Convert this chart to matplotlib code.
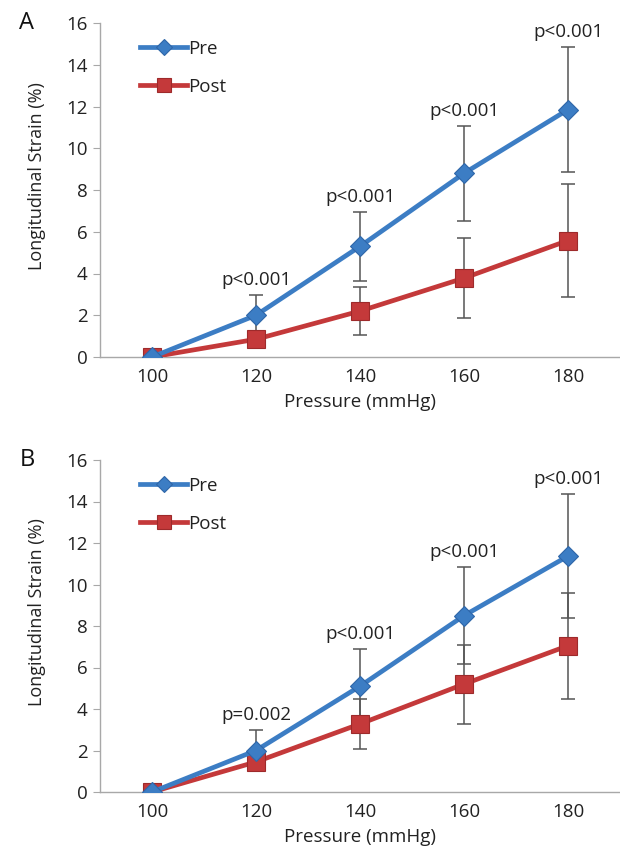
import matplotlib
matplotlib.use("Agg")
import matplotlib.pyplot as plt
import numpy as np

plt.rcParams['font.family'] = ['Open Sans', 'DejaVu Sans']

pressures = ["100", "120", "140", "160", "180"]

# Panel A
a_pre = [0.0, 2.0, 5.3, 8.8, 11.85]
a_pre_err = [0.0, 0.97, 1.65, 2.27, 3.0]
a_post = [0.0, 0.85, 2.2, 3.78, 5.58]
a_post_err = [0.0, 0.3, 1.15, 1.9, 2.72]
a_pvals = ["", "p<0.001", "p<0.001", "p<0.001", "p<0.001"]

# Panel B
b_pre = [0.0, 2.0, 5.1, 8.5, 11.37]
b_pre_err = [0.0, 1.0, 1.8, 2.35, 3.0]
b_post = [0.0, 1.45, 3.28, 5.2, 7.05]
b_post_err = [0.0, 0.3, 1.22, 1.9, 2.55]
b_pvals = ["", "p=0.002", "p<0.001", "p<0.001", "p<0.001"]

yticks = [0, 2, 4, 6, 8, 10, 12, 14, 16]

BLUE = "#3C7DC4"
RED = "#C4393A"
GRAY = "#A8A8A8"
TXT = "#222222"
FS = 13.5

fig = plt.figure(figsize=(6.2, 8.66), dpi=100)
axA = fig.add_axes([100/620, 1-357/866, 520/620, 334/866])
axB = fig.add_axes([100/620, 1-792/866, 520/620, 332/866])


def draw(ax, pre, pre_err, post, post_err, pvals, letter):
    x = np.arange(len(pressures))
    ax.errorbar(x, pre, yerr=pre_err, fmt='none', ecolor='#555555',
                elinewidth=1.1, capsize=5, capthick=1.1, zorder=2)
    ax.errorbar(x, post, yerr=post_err, fmt='none', ecolor='#555555',
                elinewidth=1.1, capsize=5, capthick=1.1, zorder=2)
    ax.plot(x, pre, color=BLUE, lw=3.4, marker='D', ms=10.5,
            mfc=BLUE, mec='#2F66A8', mew=0.8, label='Pre', zorder=4)
    ax.plot(x, post, color=RED, lw=3.4, marker='s', ms=12.5,
            mfc=RED, mec='#9E2A2B', mew=0.8, label='Post', zorder=3)
    for xi, y, e, t in zip(x, pre, pre_err, pvals):
        if t:
            ax.annotate(t, (xi, y + e), xytext=(0, 4), textcoords='offset points',
                        ha='center', va='bottom', fontsize=FS, color=TXT)
    ax.set_xlim(-0.5, len(pressures) - 0.5)
    ax.set_ylim(0, 16)
    ax.set_yticks(yticks)
    ax.set_xticks(x)
    ax.set_xticklabels(pressures)
    ax.tick_params(axis='x', length=0, pad=8, labelsize=FS, labelcolor=TXT)
    ax.tick_params(axis='y', length=5, color=GRAY, pad=4, labelsize=FS, labelcolor=TXT)
    for s in ['top', 'right']:
        ax.spines[s].set_visible(False)
    for s in ['left', 'bottom']:
        ax.spines[s].set_color(GRAY)
        ax.spines[s].set_linewidth(1.0)
    ax.set_xlabel("Pressure (mmHg)", fontsize=FS, color=TXT, labelpad=5)
    ax.set_ylabel("Longitudinal Strain (%)", fontsize=13, color=TXT)
    ax.yaxis.set_label_coords(-0.104, 0.543)
    leg = ax.legend(loc='upper left', bbox_to_anchor=(0.045, 1.0), frameon=False,
                    fontsize=FS, handlelength=2.5, handletextpad=0.05,
                    labelspacing=1.05, markerscale=0.75)
    for t in leg.get_texts():
        t.set_color(TXT)
    ax.text(-0.155, 1.0, letter, transform=ax.transAxes, fontsize=17,
            color='#111111', ha='left', va='center')


draw(axA, a_pre, a_pre_err, a_post, a_post_err, a_pvals, "A")
draw(axB, b_pre, b_pre_err, b_post, b_post_err, b_pvals, "B")

fig.savefig("out.png", dpi=100)
